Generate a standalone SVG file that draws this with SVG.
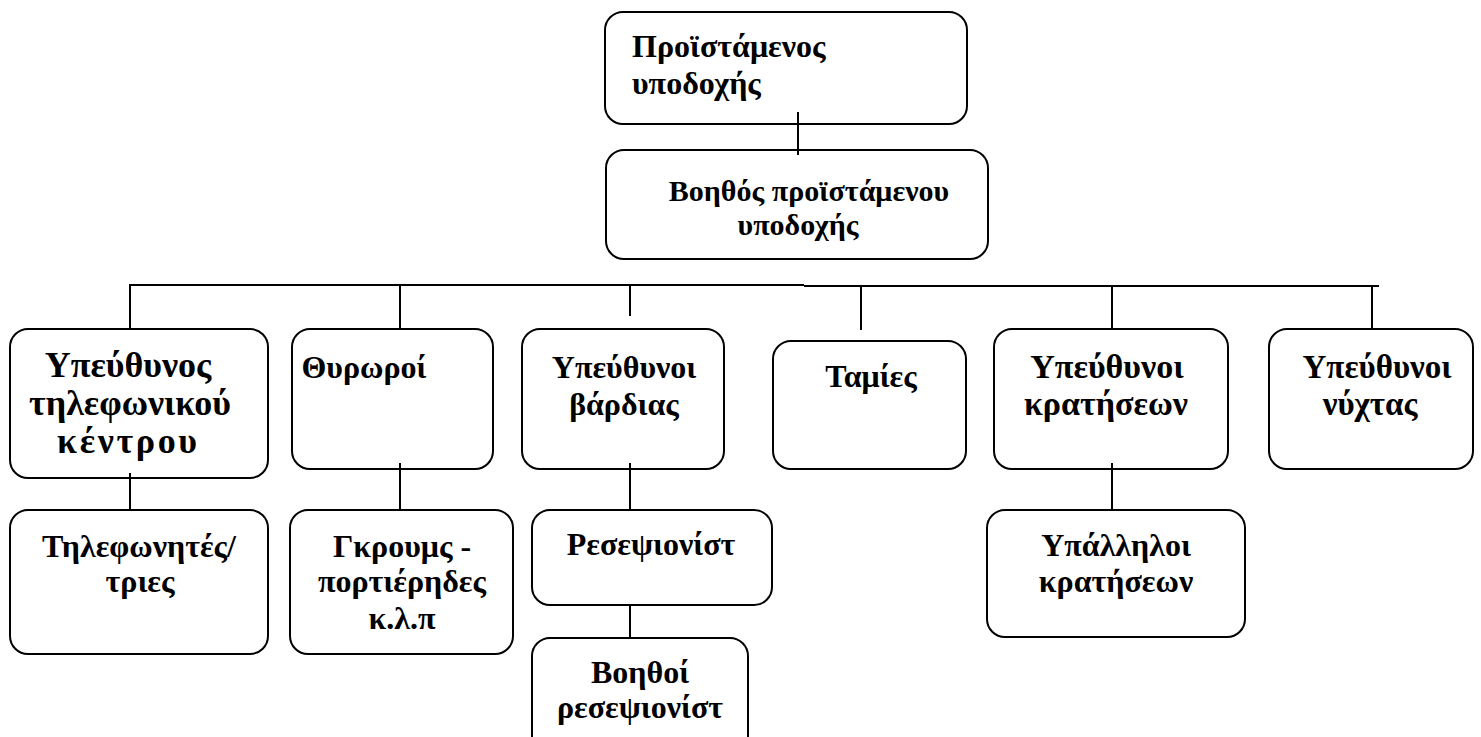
<svg xmlns="http://www.w3.org/2000/svg" width="1481" height="737" viewBox="0 0 1481 737">
<style>
.box{fill:#fff;stroke:#000;stroke-width:2}
.ln{stroke:#000;stroke-width:2;fill:none}
text{font-family:"Liberation Serif","Times New Roman",serif;font-weight:bold;font-size:32px;fill:#000}
.c{text-anchor:middle}
.s30{font-size:30px}
.s33{font-size:33px}
.s34{font-size:34px}
.s36{font-size:36px}
</style>
<rect width="1481" height="737" fill="#fff"/>
<g id="n1"><rect class="box" x="605" y="12" width="362" height="112" rx="18"/>
<text x="632" y="57">Προϊστάμενος</text><text x="632" y="94">υποδοχής</text></g>
<g id="n2"><rect class="box" x="606" y="150" width="382" height="109" rx="18"/>
<text class="c s30" x="809" y="201">Βοηθός προϊστάμενου</text><text class="c s30" x="798" y="235">υποδοχής</text></g>
<g id="n3"><rect class="box" x="10" y="329" width="258" height="149" rx="18"/>
<text class="c s36" x="128" y="377">Υπεύθυνος</text><text class="c s36" x="130" y="415">τηλεφωνικού</text><text class="c s36" x="127" y="453" textLength="140" lengthAdjust="spacing">κέντρου</text></g>
<g id="n4"><rect class="box" x="292" y="329" width="201" height="140" rx="18"/>
<text class="c" x="364" y="378">Θυρωροί</text></g>
<g id="n5"><rect class="box" x="522" y="329" width="202" height="140" rx="18"/>
<text class="c" x="624" y="378">Υπεύθυνοι</text><text class="c" x="624" y="415">βάρδιας</text></g>
<g id="n6"><rect class="box" x="773" y="341" width="193" height="128" rx="18"/>
<text class="c" x="871" y="387">Ταμίες</text></g>
<g id="n7"><rect class="box" x="994" y="329" width="234" height="140" rx="18"/>
<text class="c s34" x="1107" y="378">Υπεύθυνοι</text><text class="c s34" x="1106" y="415">κρατήσεων</text></g>
<g id="n8"><rect class="box" x="1269" y="329" width="204" height="140" rx="18"/>
<text class="c s33" x="1377" y="378">Υπεύθυνοι</text><text class="c s33" x="1370" y="415">νύχτας</text></g>
<g id="n9"><rect class="box" x="10" y="510" width="258" height="144" rx="18"/>
<text class="c" x="139" y="557">Τηλεφωνητές/</text><text class="c" x="140" y="592">τριες</text></g>
<g id="n10"><rect class="box" x="290" y="510" width="223" height="144" rx="18"/>
<text class="c" x="402" y="557">Γκρουμς -</text><text class="c" x="402" y="592">πορτιέρηδες</text><text class="c" x="402" y="629">κ.λ.π</text></g>
<g id="n11"><rect class="box" x="532" y="510" width="240" height="95" rx="18"/>
<text class="c" x="651" y="555">Ρεσεψιονίστ</text></g>
<g id="n12"><rect class="box" x="532" y="638" width="216" height="120" rx="18"/>
<text class="c" x="640" y="683">Βοηθοί</text><text class="c" x="640" y="718">ρεσεψιονίστ</text></g>
<g id="n13"><rect class="box" x="987" y="510" width="258" height="127" rx="18"/>
<text class="c" x="1116" y="556">Υπάλληλοι</text><text class="c" x="1116" y="592">κρατήσεων</text></g>
<g id="connectors">
<line class="ln" x1="798" y1="112" x2="798" y2="155"/>
<line class="ln" x1="129" y1="285" x2="804" y2="285"/>
<line class="ln" x1="804" y1="286" x2="1379" y2="286"/>
<line class="ln" x1="130" y1="285" x2="130" y2="329"/>
<line class="ln" x1="400" y1="285" x2="400" y2="329"/>
<line class="ln" x1="630" y1="285" x2="630" y2="316"/>
<line class="ln" x1="861" y1="286" x2="861" y2="330"/>
<line class="ln" x1="1112" y1="286" x2="1112" y2="329"/>
<line class="ln" x1="1372" y1="286" x2="1372" y2="329"/>
<line class="ln" x1="130" y1="473" x2="130" y2="510"/>
<line class="ln" x1="400" y1="463" x2="400" y2="510"/>
<line class="ln" x1="630" y1="463" x2="630" y2="510"/>
<line class="ln" x1="630" y1="605" x2="630" y2="638"/>
<line class="ln" x1="1112" y1="463" x2="1112" y2="510"/>
</g>
</svg>
